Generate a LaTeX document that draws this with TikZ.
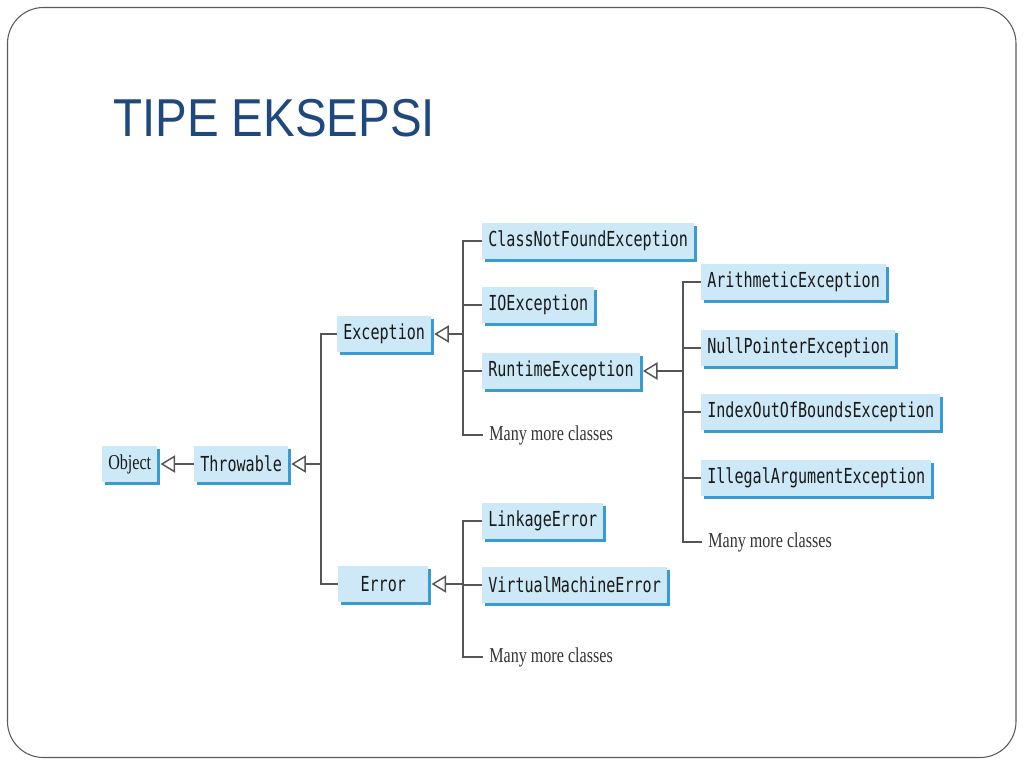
\documentclass[tikz,border=0pt]{standalone}
\usepackage{fontspec}
\usetikzlibrary{arrows.meta,shadows}

\newfontfamily\codefont[FakeStretch=0.73]{DejaVu Sans Mono}
\newfontfamily\serifnarrow[FakeStretch=0.76]{Liberation Serif}
\newfontfamily\titlefont[FakeStretch=0.89]{Liberation Sans}

\definecolor{boxfill}{HTML}{CDE9F7}
\definecolor{boxshade}{HTML}{3A9BD2}
\definecolor{titleblue}{HTML}{1F497D}
\definecolor{linegray}{HTML}{555555}
\definecolor{framegray}{HTML}{5A5A5A}

\tikzset{
    cls/.style={fill=boxfill, anchor=west, inner xsep=4.5pt, inner ysep=0pt,
        minimum height=27pt, text=black!90,
        font=\codefont\fontsize{15.5pt}{17pt}\selectfont,
        drop shadow={opacity=1, fill=boxshade, shadow xshift=2.25pt, shadow yshift=-2.25pt}},
    more/.style={anchor=west, inner xsep=4.5pt, text=black!80,
        font=\serifnarrow\fontsize{15.9pt}{18pt}\selectfont},
    inh/.style={draw=linegray, line width=1.1pt,
        -{Triangle[open, length=11pt, width=13pt, fill=white]}},
    bus/.style={draw=linegray, line width=1.1pt}
}

\begin{document}
\begin{tikzpicture}[x=0.75pt, y=-0.75pt]
            \useasboundingbox (0, 0) rectangle (1024, 768);
            \draw [draw=framegray, line width=0.8pt, rounded corners=27pt] (7.5, 7.5) rectangle (1016, 757.5);

            \node [anchor=base west, inner sep=0pt, text=titleblue,
                font=\titlefont\fontsize{40pt}{48pt}\selectfont] (title) at (113, 136) {TIPE EKSEPSI};

            % classes
            \node [cls, font=\serifnarrow\fontsize{15.9pt}{18pt}\selectfont] (obj) at (102, 464) {Object};
            \node [cls] (thr) at (194, 464) {Throwable};
            \node [cls] (exc) at (337, 334) {Exception};
            \node [cls, minimum width=67.5pt] (err) at (338, 584) {Error};

            \node [cls] (cnf) at (482, 241) {ClassNotFoundException};
            \node [cls] (io) at (482, 305) {IOException};
            \node [cls] (rt) at (482, 371) {RuntimeException};
            \node [more] (emore) at (483, 435) {Many more classes};

            \node [cls] (ari) at (701, 282) {ArithmeticException};
            \node [cls] (npe) at (701, 348) {NullPointerException};
            \node [cls] (ioob) at (701, 412) {IndexOutOfBoundsException};
            \node [cls] (iae) at (701, 478) {IllegalArgumentException};
            \node [more] (rmore) at (702, 542) {Many more classes};

            \node [cls] (lnk) at (482, 521) {LinkageError};
            \node [cls] (vm) at (482, 585) {VirtualMachineError};
            \node [more] (xmore) at (483, 657) {Many more classes};

            % connectors
            \coordinate (tb) at (321, 464);
            \coordinate (eb) at (463, 334);
            \coordinate (rb) at (683, 371);
            \coordinate (erb) at (463, 584);

            \draw [inh] (thr.west) -- ([xshift=2.25pt]obj.east);

            \draw [bus] (exc.west) -| (tb) |- (err.west);
            \draw [inh] (tb) -- ([xshift=2.25pt]thr.east);

            \draw [bus] (cnf.west) -| (eb) |- (emore.west);
            \draw [bus] (io.west) -- (io.west -| eb);
            \draw [bus] (rt.west) -- (rt.west -| eb);
            \draw [inh] (eb) -- ([xshift=2.25pt]exc.east);

            \draw [bus] (ari.west) -| (rb) |- (rmore.west);
            \draw [bus] (npe.west) -- (npe.west -| rb);
            \draw [bus] (ioob.west) -- (ioob.west -| rb);
            \draw [bus] (iae.west) -- (iae.west -| rb);
            \draw [inh] (rb) -- ([xshift=2.25pt]rt.east);

            \draw [bus] (lnk.west) -| (erb) |- (xmore.west);
            \draw [bus] (vm.west) -- (vm.west -| erb);
            \draw [inh] (erb) -- ([xshift=2.25pt]err.east);
\end{tikzpicture}
\end{document}
